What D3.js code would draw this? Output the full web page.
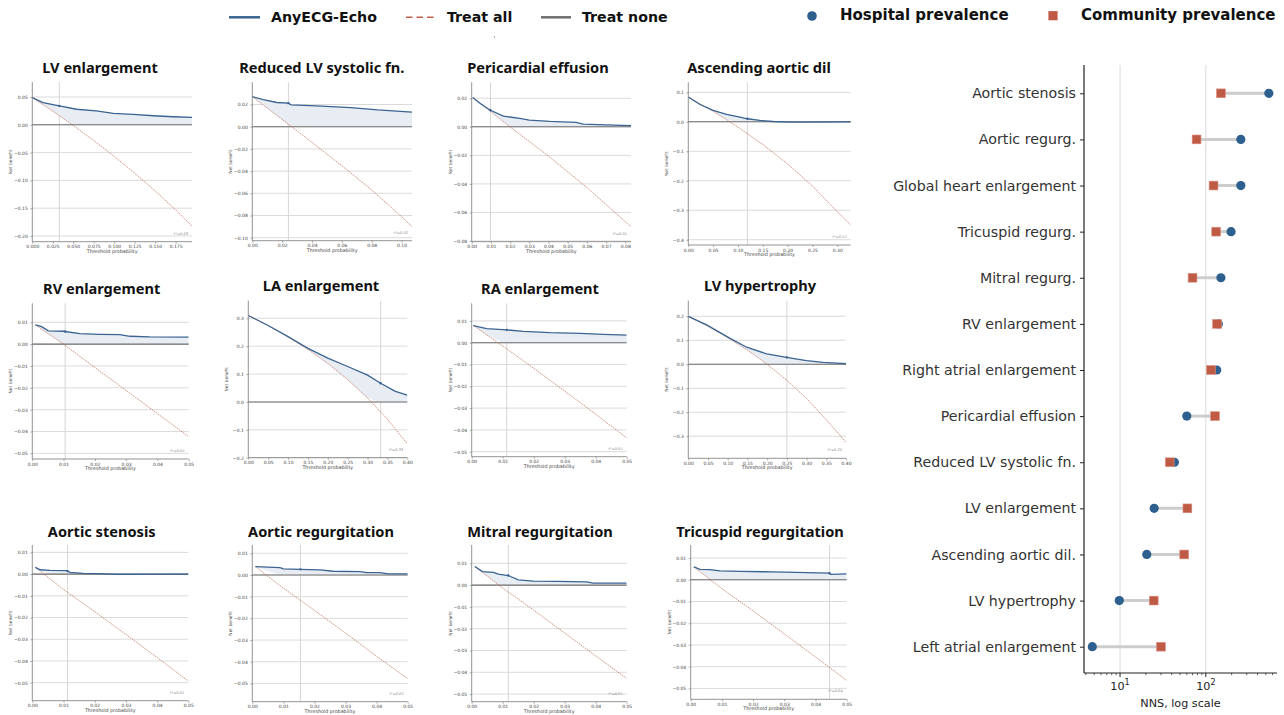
<!DOCTYPE html>
<html><head><meta charset="utf-8">
<script src="https://cdn.jsdelivr.net/npm/d3@7"></script>
<style>body{margin:0;background:#fff}svg{display:block}</style>
</head><body><svg id="c" width="1284" height="715"></svg>
<script>
// ---------------- DATA ----------------
const panelTitles = ["LV enlargement","Reduced LV systolic fn.","Pericardial effusion","Ascending aortic dil",
  "RV enlargement","LA enlargement","RA enlargement","LV hypertrophy",
  "Aortic stenosis","Aortic regurgitation","Mitral regurgitation","Tricuspid regurgitation"];
const xMaxes = [0.195,0.107,0.083,0.327,0.05,0.40,0.05,0.40,0.05,0.05,0.05,0.05];
const yLimits = [[-0.2103,0.077],[-0.1027,0.040],[-0.0805,0.0312],[-0.418,0.134],
  [-0.0526,0.0187],[-0.2,0.363],[-0.0523,0.0181],[-0.392,0.265],
  [-0.0583,0.0134],[-0.0584,0.0138],[-0.0535,0.0184],[-0.055,0.016]];
const tickSmall = [0.01,0,-0.01,-0.02,-0.03,-0.04,-0.05];
const yTickSets = [[0.05,0,-0.05,-0.10,-0.15,-0.20],[0.02,0,-0.02,-0.04,-0.06,-0.08,-0.10],
  [0.02,0,-0.02,-0.04,-0.06,-0.08],[0.1,0,-0.1,-0.2,-0.3,-0.4],
  tickSmall,[0.3,0.2,0.1,0,-0.1,-0.2],tickSmall,[0.2,0.1,0,-0.1,-0.2,-0.3],
  tickSmall,tickSmall,tickSmall,tickSmall];
const xSmall = [0,0.01,0.02,0.03,0.04,0.05];
const xTickSets = [[0,0.025,0.05,0.075,0.1,0.125,0.15,0.175],[0,0.02,0.04,0.06,0.08,0.10],
  [0,0.01,0.02,0.03,0.04,0.05,0.06,0.07,0.08],[0,0.05,0.10,0.15,0.20,0.25,0.30],
  xSmall,[0,0.05,0.1,0.15,0.2,0.25,0.3,0.35,0.4],xSmall,[0,0.05,0.1,0.15,0.2,0.25,0.3,0.35,0.4],
  xSmall,xSmall,xSmall,xSmall];
const yDecimals = [2,2,2,1,2,1,2,1,2,2,2,2];
const xDecimals = [3,2,2,2,2,2,2,2,2,2,2,2];
const thresholds = [0.033,0.0242,0.0098,0.119,0.0105,0.333,0.0113,0.25,0.0113,0.0155,0.0118,0.0445];
const thresholdLabels = ["t*=0.03","t*=0.02","t*=0.01","t*=0.12","t*=0.01","t*=0.33","t*=0.01","t*=0.25","t*=0.01","t*=0.02","t*=0.01","t*=0.04"];

const modelLVEnl = [[0,0.049],[0.013,0.040],[0.033,0.034],[0.054,0.028],[0.078,0.025],[0.099,0.0205],[0.123,0.0187],[0.148,0.0163],[0.172,0.0145],[0.195,0.0133]];
const allLVEnl = [[0,0.049],[0.025,0.0246],[0.05,-0.0011],[0.075,-0.0283],[0.1,-0.0567],[0.125,-0.087],[0.15,-0.119],[0.175,-0.153],[0.195,-0.182]];
const modelLVSys = [[0,0.0271],[0.0074,0.0243],[0.0164,0.0218],[0.0242,0.0212],[0.026,0.0197],[0.043,0.0188],[0.066,0.0172],[0.084,0.0151],[0.107,0.0132]];
const allLVSys = [[0,0.027],[0.02,0.0066],[0.04,-0.0142],[0.06,-0.0351],[0.08,-0.057],[0.1,-0.081],[0.107,-0.090]];
const modelPeri = [[0.0005,0.0205],[0.0043,0.0165],[0.0095,0.0118],[0.0165,0.0075],[0.025,0.0059],[0.030,0.0047],[0.0407,0.0038],[0.0545,0.0031],[0.058,0.0019],[0.070,0.0014],[0.083,0.0009]];
const allPeri = [[0.0005,0.0205],[0.02,0],[0.04,-0.0205],[0.06,-0.0425],[0.083,-0.070]];
const modelAsc = [[0,0.084],[0.0235,0.0586],[0.05,0.039],[0.077,0.0253],[0.104,0.0161],[0.119,0.0103],[0.144,0.0046],[0.171,0.001],[0.205,-0.001],[0.238,-0.001],[0.327,0]];
const allAsc = [[0,0.084],[0.05,0.036],[0.1,-0.018],[0.15,-0.077],[0.2,-0.143],[0.25,-0.218],[0.3,-0.305],[0.327,-0.350]];
const modelRV = [[0.001,0.0088],[0.003,0.008],[0.0051,0.0061],[0.0099,0.0059],[0.0152,0.0048],[0.0216,0.0045],[0.028,0.0044],[0.0312,0.0036],[0.0376,0.0033],[0.05,0.0032]];
const allRV = [[0.001,0.0088],[0.01,0],[0.02,-0.0107],[0.03,-0.0212],[0.04,-0.0318],[0.05,-0.0424]];
const modelLA = [[0,0.31],[0.05,0.274],[0.1,0.234],[0.15,0.192],[0.2,0.157],[0.25,0.127],[0.3,0.096],[0.333,0.067],[0.37,0.038],[0.4,0.024]];
const allLA = [[0,0.31],[0.05,0.274],[0.1,0.233],[0.15,0.188],[0.2,0.138],[0.25,0.080],[0.3,0.014],[0.35,-0.062],[0.4,-0.150]];
const modelRA = [[0.0005,0.0079],[0.0048,0.0065],[0.0113,0.0059],[0.0167,0.0052],[0.0253,0.0046],[0.035,0.0043],[0.0425,0.0038],[0.05,0.0035]];
const allRA = [[0.0005,0.008],[0.01,-0.0015],[0.02,-0.0117],[0.03,-0.0222],[0.04,-0.0328],[0.05,-0.0437]];
const modelLVH = [[0,0.2],[0.0465,0.164],[0.106,0.108],[0.148,0.071],[0.199,0.043],[0.249,0.029],[0.30,0.015],[0.342,0.008],[0.4,0.003]];
const allLVH = [[0,0.2],[0.05,0.158],[0.1,0.111],[0.15,0.059],[0.2,0],[0.25,-0.067],[0.3,-0.143],[0.35,-0.231],[0.4,-0.325]];
const modelAS = [[0.001,0.0031],[0.0025,0.002],[0.0057,0.0017],[0.011,0.0016],[0.0121,0.0008],[0.0163,0.0003],[0.0217,0.0002],[0.027,-0.0001],[0.05,0]];
const allAS = [[0.001,0.0031],[0.01,-0.0071],[0.02,-0.0173],[0.03,-0.0278],[0.04,-0.0384],[0.05,-0.0493]];
const modelAR = [[0.001,0.0038],[0.0089,0.0034],[0.01,0.0028],[0.0153,0.0026],[0.0218,0.0023],[0.026,0.0017],[0.0347,0.0015],[0.0368,0.0011],[0.041,0.0011],[0.0438,0.0005],[0.05,0.0005]];
const allAR = [[0.001,0.0038],[0.01,-0.0061],[0.02,-0.0163],[0.03,-0.0268],[0.04,-0.0375],[0.05,-0.0478]];
const modelMR = [[0.001,0.0085],[0.0035,0.0062],[0.007,0.0058],[0.0086,0.005],[0.0118,0.0044],[0.015,0.0024],[0.0199,0.0018],[0.0274,0.0017],[0.037,0.0015],[0.0392,0.0009],[0.05,0.0009]];
const allMR = [[0.001,0.0085],[0.01,-0.0013],[0.02,-0.0115],[0.03,-0.022],[0.04,-0.0325],[0.05,-0.0428]];
const modelTR = [[0.001,0.0059],[0.003,0.0048],[0.0062,0.0047],[0.0094,0.0041],[0.0158,0.0039],[0.0265,0.0036],[0.0372,0.0033],[0.0444,0.0031],[0.0449,0.0025],[0.05,0.0027]];
const allTR = [[0.001,0.0059],[0.01,-0.0041],[0.02,-0.0143],[0.03,-0.0249],[0.04,-0.0355],[0.05,-0.0463]];

const modelSeries = [modelLVEnl,modelLVSys,modelPeri,modelAsc,modelRV,modelLA,modelRA,modelLVH,modelAS,modelAR,modelMR,modelTR];
const treatAllSeries = [allLVEnl,allLVSys,allPeri,allAsc,allRV,allLA,allRA,allLVH,allAS,allAR,allMR,allTR];

const conditions = ["Aortic stenosis","Aortic regurg.","Global heart enlargement","Tricuspid regurg.","Mitral regurg.",
  "RV enlargement","Right atrial enlargement","Pericardial effusion","Reduced LV systolic fn.","LV enlargement",
  "Ascending aortic dil.","LV hypertrophy","Left atrial enlargement"];
const hospitalNNS = [543,256,256,197,150,140,134,60,43,25,20.5,9.8,4.75];
const communityNNS = [150,78,123,132,70,135,115,128,38,61,56,24.7,30];
const nnsMajorTicks = [10,100];

// ---------------- LAYOUT / STYLE ----------------
const boxes = [
  [32.3,192,82,241.7],[252.3,412,82.3,240.7],[471.7,631,82.3,241.7],[688.3,850.7,82.3,245],
  [32.3,188.7,303.3,459],[248.3,407.3,300.7,457.7],[471.7,626.7,303.3,456.7],[688.3,846,300.7,458.3],
  [32.3,188.3,545,700.7],[252.3,407.7,545,701.7],[471.7,626.7,545,701.7],[690.7,846.7,545,699.3]];
const titlePos = [[100,67],[321.7,67],[538,67],[759,67],[101.7,288],[321,285],[540,288],[760,285],
  [101.7,530.7],[321,530.7],[540,530.7],[760,530.7]];
const BLUE = "#3a6491", RED = "#c06a55", GRAY = "#6e6e6e";
const svg = d3.select("#c");
const defs = svg.append("defs");

function interp(arr, xv){
  if (xv <= arr[0][0]) return arr[0][1];
  for (let i=1;i<arr.length;i++){
    if (xv <= arr[i][0]){
      const [x0,y0]=arr[i-1],[x1,y1]=arr[i];
      return y0 + (y1-y0)*(xv-x0)/(x1-x0);
    }
  }
  return arr[arr.length-1][1];
}

panelTitles.forEach((title,i)=>{
  const [L,R,T,B] = boxes[i];
  const x = d3.scaleLinear().domain([0,xMaxes[i]]).range([L,R]);
  const y = d3.scaleLinear().domain(yLimits[i]).range([B,T]);
  const g = svg.append("g");
  const cid = "clip"+i;
  defs.append("clipPath").attr("id",cid).append("rect").attr("x",L).attr("y",T).attr("width",R-L).attr("height",B-T);

  svg.append("text").attr("x",titlePos[i][0]).attr("y",titlePos[i][1]).attr("text-anchor","middle")
    .attr("dominant-baseline","central").attr("font-family","'Noto Sans',sans-serif").attr("font-weight","bold")
    .attr("font-size",14.6).attr("fill","#111").text(title);

  g.selectAll("line.grid").data(yTickSets[i]).join("line").attr("class","grid")
    .attr("x1",L).attr("x2",R).attr("y1",d=>y(d)).attr("y2",d=>y(d))
    .attr("stroke","#d2d2d2").attr("stroke-width",0.8);
  g.append("line").attr("x1",x(thresholds[i])).attr("x2",x(thresholds[i])).attr("y1",T).attr("y2",B)
    .attr("stroke","#d6d6d6").attr("stroke-width",1);

  const model = modelSeries[i], all = treatAllSeries[i];
  const xs = Array.from(new Set(model.map(d=>d[0]).concat(all.map(d=>d[0])))).sort((a,b)=>a-b)
    .filter(v=>v>=model[0][0] && v<=model[model.length-1][0]);
  const fillData = xs.map(v=>({x:v, top:interp(model,v), bot:Math.max(interp(all,v),0)}));
  const area = d3.area().x(d=>x(d.x)).y0(d=>y(d.bot)).y1(d=>y(d.top));
  g.append("path").attr("d",area(fillData)).attr("fill","#e8ecf3").attr("clip-path",`url(#${cid})`);

  g.append("line").attr("x1",x(0)).attr("x2",x(xMaxes[i])).attr("y1",y(0)).attr("y2",y(0))
    .attr("stroke",GRAY).attr("stroke-width",1.1);
  const line = d3.line().x(d=>x(d[0])).y(d=>y(d[1]));
  g.append("path").attr("d",line(all)).attr("fill","none").attr("stroke",RED).attr("stroke-width",0.7)
    .attr("stroke-dasharray","1.6,0.8").attr("clip-path",`url(#${cid})`);
  g.append("path").attr("d",line(model)).attr("fill","none").attr("stroke",BLUE).attr("stroke-width",1.3)
    .attr("clip-path",`url(#${cid})`);
  g.append("circle").attr("cx",x(thresholds[i])).attr("cy",y(interp(model,thresholds[i]))).attr("r",1.2).attr("fill",BLUE);

  const xa = d3.axisBottom(x).tickValues(xTickSets[i]).tickFormat(d3.format("."+xDecimals[i]+"f")).tickSize(2).tickPadding(1.5);
  const ya = d3.axisLeft(y).tickValues(yTickSets[i]).tickFormat(d3.format("."+yDecimals[i]+"f")).tickSize(2).tickPadding(2.5);
  const gx = g.append("g").attr("transform",`translate(0,${B})`).call(xa);
  const gy = g.append("g").attr("transform",`translate(${L},0)`).call(ya);
  [gx,gy].forEach(a=>{
    a.select(".domain").attr("stroke","#777").attr("stroke-width",0.8);
    a.selectAll(".tick line").attr("stroke","#777").attr("stroke-width",0.6);
    a.selectAll("text").attr("font-family","'DejaVu Sans',sans-serif").attr("font-size",4.5).attr("fill","#444");
  });
  gy.select(".domain").attr("d",`M-0,${B}V${T}`);
  gx.select(".domain").attr("d",`M${L},0H${R}`);

  g.append("text").attr("x",(L+R)/2).attr("y",B+11).attr("text-anchor","middle")
    .attr("font-family","'DejaVu Sans',sans-serif").attr("font-size",4.8).attr("fill","#444").text("Threshold probability");
  g.append("text").attr("transform",`translate(${L-20},${(T+B)/2}) rotate(-90)`).attr("text-anchor","middle")
    .attr("font-family","'DejaVu Sans',sans-serif").attr("font-size",4.4).attr("fill","#444").text("Net benefit");
  g.append("text").attr("x",R-4).attr("y",B-7).attr("text-anchor","end")
    .attr("font-family","'DejaVu Sans',sans-serif").attr("font-size",3.6).attr("fill","#888").text(thresholdLabels[i]);
});

// ---------------- TOP LEGEND ----------------
const lg = svg.append("g").attr("font-family","'DejaVu Sans',sans-serif").attr("font-weight","bold").attr("font-size",14.2).attr("fill","#111");
lg.append("line").attr("x1",229).attr("x2",260).attr("y1",17.3).attr("y2",17.3).attr("stroke",BLUE).attr("stroke-width",2.5);
lg.append("text").attr("x",271).attr("y",17.3).attr("dominant-baseline","central").text("AnyECG-Echo");
lg.append("line").attr("x1",406).attr("x2",435).attr("y1",17.3).attr("y2",17.3).attr("stroke","#c0604a").attr("stroke-width",1.6).attr("stroke-dasharray","6.5,4");
lg.append("text").attr("x",447).attr("y",17.3).attr("dominant-baseline","central").text("Treat all");
lg.append("line").attr("x1",541).attr("x2",571).attr("y1",17.3).attr("y2",17.3).attr("stroke",GRAY).attr("stroke-width",2.5);
lg.append("text").attr("x",582).attr("y",17.3).attr("dominant-baseline","central").text("Treat none");
svg.append("circle").attr("cx",494.5).attr("cy",37).attr("r",0.6).attr("fill","#555");

// ---------------- DUMBBELL CHART ----------------
const HOSP = "#2d5f8f", COMM = "#bf5a45";
const rx = d3.scaleLog().domain([3.8,676]).range([1084,1277]);
const ry = d3.scalePoint().domain(conditions).range([93.3,646.7]);
const rTop = 65, rBot = 673, rL = 1084, rR = 1277;
const rg = svg.append("g");
rg.selectAll("line.vg").data(nnsMajorTicks).join("line").attr("x1",d=>rx(d)).attr("x2",d=>rx(d))
  .attr("y1",rTop).attr("y2",rBot).attr("stroke","#e0e0e0").attr("stroke-width",1.2);
rg.selectAll("line.conn").data(conditions).join("line")
  .attr("x1",(d,i)=>rx(hospitalNNS[i])).attr("x2",(d,i)=>rx(communityNNS[i]))
  .attr("y1",d=>ry(d)).attr("y2",d=>ry(d)).attr("stroke","#cdcdcd").attr("stroke-width",3);
rg.selectAll("circle.h").data(conditions).join("circle")
  .attr("cx",(d,i)=>rx(hospitalNNS[i])).attr("cy",d=>ry(d)).attr("r",4.6).attr("fill",HOSP);
const sq = 8.8;
rg.selectAll("rect.c").data(conditions).join("rect")
  .attr("x",(d,i)=>rx(communityNNS[i])-sq/2).attr("y",d=>ry(d)-sq/2).attr("width",sq).attr("height",sq)
  .attr("fill",COMM).attr("stroke","#d98f80").attr("stroke-width",0.6);

const ray = d3.axisLeft(ry).tickSize(4).tickPadding(4);
const gry = rg.append("g").attr("transform",`translate(${rL},0)`).call(ray);
gry.select(".domain").attr("d",`M0,${rTop}V${rBot}`).attr("stroke","#222").attr("stroke-width",1.2);
gry.selectAll(".tick line").attr("stroke","#222").attr("stroke-width",1);
gry.selectAll("text").attr("font-family","'DejaVu Sans',sans-serif").attr("font-size",14.2).attr("fill","#333");
const minor = rx.ticks().filter(v=>!nnsMajorTicks.includes(v));
const grx = rg.append("g").attr("transform",`translate(0,${rBot})`);
grx.append("line").attr("x1",rL).attr("x2",rR).attr("y1",0).attr("y2",0).attr("stroke","#222").attr("stroke-width",1.2);
grx.selectAll("line.mj").data(nnsMajorTicks).join("line").attr("x1",d=>rx(d)).attr("x2",d=>rx(d))
  .attr("y1",0).attr("y2",4).attr("stroke","#222").attr("stroke-width",1);
grx.selectAll("line.mn").data(minor).join("line").attr("x1",d=>rx(d)).attr("x2",d=>rx(d))
  .attr("y1",0).attr("y2",2.2).attr("stroke","#222").attr("stroke-width",0.7);
const tl = grx.selectAll("text.tl").data(nnsMajorTicks).join("text").attr("x",d=>rx(d)).attr("y",17)
  .attr("text-anchor","middle").attr("font-family","'DejaVu Sans',sans-serif").attr("font-size",11.2).attr("fill","#222");
tl.append("tspan").text("10");
tl.append("tspan").attr("dy",-5).attr("font-size",8).text(d=>Math.round(Math.log10(d)));
svg.append("text").attr("x",(rL+rR)/2).attr("y",706.5).attr("text-anchor","middle")
  .attr("font-family","'DejaVu Sans',sans-serif").attr("font-size",11.2).attr("fill","#222").text("NNS, log scale");

const rl = svg.append("g").attr("font-family","'DejaVu Sans',sans-serif").attr("font-weight","bold").attr("font-size",15).attr("fill","#111");
rl.append("circle").attr("cx",812).attr("cy",16).attr("r",4.8).attr("fill",HOSP);
rl.append("text").attr("x",840).attr("y",15).attr("dominant-baseline","central").text("Hospital prevalence");
rl.append("rect").attr("x",1053-4.6).attr("y",15.7-4.6).attr("width",9.2).attr("height",9.2).attr("fill",COMM);
rl.append("text").attr("x",1081).attr("y",15).attr("dominant-baseline","central").text("Community prevalence");
</script></body></html>
